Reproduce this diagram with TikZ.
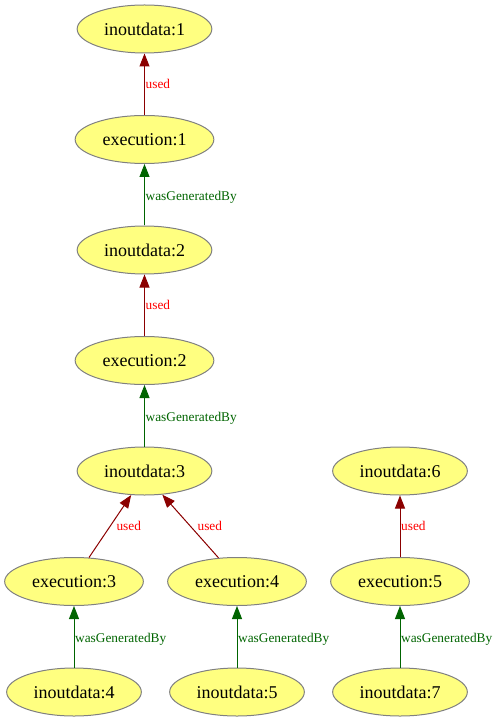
\documentclass[tikz,border=0pt]{standalone}
\usepackage{fontspec}
\setmainfont{Liberation Serif}
\usetikzlibrary{shapes.geometric,arrows.meta}
\definecolor{jaune}{HTML}{FFFF80}
\definecolor{gris}{HTML}{808080}
\definecolor{rougef}{HTML}{8B0000}
\definecolor{vertf}{HTML}{006400}

\begin{document}
\begin{tikzpicture}[x=0.75pt, y=-0.75pt, line width=0.75pt,
  box/.style={ellipse, draw=gris, fill=jaune, minimum height=36pt, inner sep=0pt,
    font=\fontsize{13.5}{16}\selectfont},
  data/.style={box, minimum width=101pt},
  exec/.style={box, minimum width=104pt},
  used/.style={draw=rougef, -{Triangle[length=9.75pt,width=7.5pt]}},
  gen/.style={draw=vertf, -{Triangle[length=9.75pt,width=7.5pt]}},
  lab/.style={font=\fontsize{10}{12}\selectfont, inner sep=0.5pt, anchor=west}]
\useasboundingbox (0,0) rectangle (496,723) ;
% main chain
\node[data] (d1) at (144.5,29) {inoutdata:1} ;
\node[exec] (e1) at (144.5,139.5) {execution:1} ;
\node[data] (d2) at (144.5,250) {inoutdata:2} ;
\node[exec] (e2) at (144.5,360.5) {execution:2} ;
\node[data] (d3) at (144.5,471) {inoutdata:3} ;
% two branches under inoutdata:3
\node[exec] (e3) at (74,581.5) {execution:3} ;
\node[exec] (e4) at (237,581.5) {execution:4} ;
\node[data] (d4) at (74,692) {inoutdata:4} ;
\node[data] (d5) at (237,692) {inoutdata:5} ;
% chain on the right
\node[data] (d6) at (400,471) {inoutdata:6} ;
\node[exec] (e5) at (400,581.5) {execution:5} ;
\node[data] (d7) at (400,692) {inoutdata:7} ;
%% edges
\draw[used] (e1) -- node[lab, text=red] {used} (d1) ;
\draw[gen] (d2) -- node[lab, text=vertf, yshift=-2pt] {wasGeneratedBy} (e1) ;
\draw[used] (e2) -- node[lab, text=red] {used} (d2) ;
\draw[gen] (d3) -- node[lab, text=vertf, yshift=-2pt] {wasGeneratedBy} (e2) ;
\draw[used] (e3.58) -- node[lab, text=red, xshift=4pt] {used} (d3.241) ;
\draw[used] (e4.128) -- node[lab, text=red, xshift=4.5pt] {used} (d3.307) ;
\draw[gen] (d4) -- node[lab, text=vertf, yshift=-2pt] {wasGeneratedBy} (e3) ;
\draw[gen] (d5) -- node[lab, text=vertf, yshift=-2pt] {wasGeneratedBy} (e4) ;
\draw[used] (e5) -- node[lab, text=red] {used} (d6) ;
\draw[gen] (d7) -- node[lab, text=vertf, yshift=-2pt] {wasGeneratedBy} (e5) ;
\end{tikzpicture}
\end{document}
